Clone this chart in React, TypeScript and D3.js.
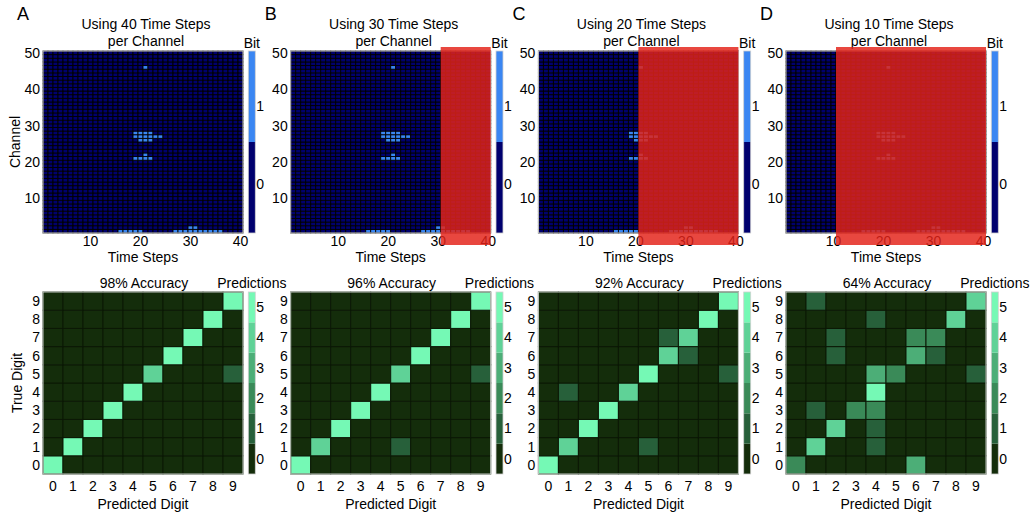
import React from 'react';
import * as d3 from 'd3';

const W = 1034;
const H = 514;

const stepsUsed = [40, 30, 20, 10];
const panelLetters = ['A', 'B', 'C', 'D'];
const accuracies = [98, 96, 92, 64];
const channelTicks = [10, 20, 30, 40, 50];
const timeTicks = [10, 20, 30, 40];
const bitTicks = [0, 1];
const predTicks = [0, 1, 2, 3, 4, 5];
const digits = [0, 1, 2, 3, 4, 5, 6, 7, 8, 9];
const numChannels = 50;
const numSteps = 40;

// [channel, firstStep, lastStep] runs of bit = 1
const bitRuns: number[][] = [
  [46, 21, 21],
  [28, 19, 22],
  [27, 19, 24],
  [26, 20, 22],
  [22, 21, 21],
  [21, 19, 22],
  [2, 30, 31],
  [1, 16, 20],
  [1, 27, 36],
];

// [trueDigit, predictedDigit, count]
const confA: number[][] = [
  [0, 0, 5], [1, 1, 5], [2, 2, 5], [3, 3, 5], [4, 4, 5], [5, 5, 4], [5, 9, 1],
  [6, 6, 5], [7, 7, 5], [8, 8, 5], [9, 9, 5],
];
const confB: number[][] = [
  [0, 0, 5], [1, 1, 4], [1, 5, 1], [2, 2, 5], [3, 3, 5], [4, 4, 5], [5, 5, 4], [5, 9, 1],
  [6, 6, 5], [7, 7, 5], [8, 8, 5], [9, 9, 5],
];
const confC: number[][] = [
  [0, 0, 5], [1, 1, 4], [1, 5, 1], [2, 2, 5], [3, 3, 5], [4, 1, 1], [4, 4, 4], [5, 5, 5],
  [5, 9, 1], [6, 6, 4], [6, 7, 1], [7, 6, 1], [7, 7, 4], [8, 8, 5], [9, 9, 5],
];
const confD: number[][] = [
  [0, 0, 2], [0, 6, 3], [1, 1, 4], [1, 4, 1], [2, 2, 4], [2, 4, 1], [3, 1, 1], [3, 3, 2],
  [3, 4, 2], [4, 4, 5], [5, 4, 3], [5, 5, 2], [5, 9, 1], [6, 2, 1], [6, 6, 3], [6, 7, 1],
  [7, 2, 1], [7, 6, 2], [7, 7, 2], [8, 4, 1], [8, 8, 4], [9, 1, 1], [9, 9, 4],
];
const confusions = [confA, confB, confC, confD];

const bitColors = ['#00006e', '#3a86f2'];
const predColors = ['#142d0b', '#27603a', '#3a8a58', '#4cae77', '#5fd297', '#75f9b5'];

const FONT = '"Liberation Sans", Arial, Helvetica, sans-serif';

const panelLefts = [43, 290.7, 538.4, 786];
const PW = 200;
const hmTop = 51;
const hmBottom = 233;
const cmTop = 292;
const cmBottom = 474;

function Panel({ idx }: { idx: number }) {
  const left = panelLefts[idx];
  const x = d3.scaleLinear().domain([0.5, numSteps + 0.5]).range([left, left + PW]);
  const y = d3.scaleLinear().domain([0.5, numChannels + 0.5]).range([hmBottom, hmTop]);
  const cellW = x(2) - x(1);
  const cellH = y(1) - y(2);

  const cells: { t: number; c: number; v: number }[] = [];
  for (let c = 1; c <= numChannels; c++) {
    for (let t = 1; t <= numSteps; t++) {
      const on = bitRuns.some((r) => r[0] === c && t >= r[1] && t <= r[2]);
      cells.push({ t, c, v: on ? 1 : 0 });
    }
  }

  const cbX = left + 205.3;
  const cbW = 7;
  const cbY = d3.scaleLinear().domain([-0.63, 1.7]).range([hmBottom, hmTop]);

  // confusion matrix
  const cx = d3.scaleBand<number>().domain(digits).range([left, left + PW]);
  const cy = d3.scaleBand<number>().domain(digits).range([cmBottom, cmTop]);
  const conf = confusions[idx];
  const countOf = (t: number, p: number) => {
    const e = conf.find((r) => r[0] === t && r[1] === p);
    return e ? e[2] : 0;
  };
  const pColor = d3.scaleOrdinal<number, string>().domain(predTicks).range(predColors);
  const pcbY = d3.scaleLinear().domain([-0.5, 5.5]).range([cmBottom, cmTop]);

  const overlayStart = x(stepsUsed[idx] + 0.5);

  return (
    <g>
      <text x={left - 26} y={20} fontSize={18} fontFamily={FONT}>{panelLetters[idx]}</text>
      <text x={left + 103} y={29} fontSize={14} fontFamily={FONT} textAnchor="middle">
        {`Using ${stepsUsed[idx]} Time Steps`}
      </text>
      <text x={left + 103} y={45.5} fontSize={14} fontFamily={FONT} textAnchor="middle">per Channel</text>

      {/* heatmap */}
      {cells.map((d, i) => (
        <rect key={i} x={x(d.t - 0.5)} y={y(d.c + 0.5)} width={cellW} height={cellH}
          fill={bitColors[d.v]} stroke="#000" strokeWidth={0.9} />
      ))}
      <rect x={left} y={hmTop} width={PW} height={hmBottom - hmTop} fill="none" stroke="#c8c8c8" strokeWidth={1} />
      {channelTicks.map((t) => (
        <text key={t} x={left - 3} y={y(t)} dy="0.35em" fontSize={14} fontFamily={FONT} textAnchor="end">{t}</text>
      ))}
      {timeTicks.map((t) => (
        <text key={t} x={x(t)} y={246} fontSize={14} fontFamily={FONT} textAnchor="middle">{t}</text>
      ))}
      <text x={left + 100} y={261.5} fontSize={14} fontFamily={FONT} textAnchor="middle">Time Steps</text>
      {idx === 0 && (
        <text transform={`translate(20,${(hmTop + hmBottom) / 2}) rotate(-90)`} fontSize={14} fontFamily={FONT} textAnchor="middle">Channel</text>
      )}

      {/* bit colorbar */}
      {bitTicks.map((b) => (
        <rect key={b} x={cbX} y={b === 1 ? hmTop : (hmTop + hmBottom) / 2} width={cbW}
          height={(hmBottom - hmTop) / 2} fill={bitColors[b]} />
      ))}
      <rect x={cbX} y={hmTop} width={cbW} height={hmBottom - hmTop} fill="none" stroke="#d0d0d0" strokeWidth={0.8} />
      {bitTicks.map((b) => (
        <text key={b} x={cbX + cbW + 1} y={cbY(b)} dy="0.35em" fontSize={14} fontFamily={FONT}>{b}</text>
      ))}
      <text x={cbX + cbW / 2} y={48} fontSize={14} fontFamily={FONT} textAnchor="middle">Bit</text>

      {/* red overlay of unused time steps */}
      {stepsUsed[idx] < numSteps && (
        <rect x={overlayStart} y={47} width={left + PW - overlayStart} height={198}
          fill="rgb(228,35,25)" fillOpacity={0.835} />
      )}

      {/* confusion matrix */}
      <text x={left + 101} y={288} fontSize={14} fontFamily={FONT} textAnchor="middle">{`${accuracies[idx]}% Accuracy`}</text>
      {digits.map((t) => digits.map((p) => (
        <rect key={`${t}-${p}`} x={cx(p)} y={cy(t)} width={cx.bandwidth()} height={cy.bandwidth()}
          fill={pColor(countOf(t, p))} stroke="#0a1805" strokeWidth={1} />
      )))}
      <rect x={left} y={cmTop} width={PW} height={cmBottom - cmTop} fill="none" stroke="#c8d0c8" strokeWidth={1} />
      {digits.map((d) => (
        <text key={`yl${d}`} x={left - 3} y={(cy(d) as number) + cy.bandwidth() / 2} dy="0.35em"
          fontSize={14} fontFamily={FONT} textAnchor="end">{d}</text>
      ))}
      {digits.map((d) => (
        <text key={`xl${d}`} x={(cx(d) as number) + cx.bandwidth() / 2} y={490.5}
          fontSize={14} fontFamily={FONT} textAnchor="middle">{d}</text>
      ))}
      <text x={left + 100} y={509} fontSize={14} fontFamily={FONT} textAnchor="middle">Predicted Digit</text>
      {idx === 0 && (
        <text transform={`translate(22,${(cmTop + cmBottom) / 2}) rotate(-90)`} fontSize={14} fontFamily={FONT} textAnchor="middle">True Digit</text>
      )}

      {/* predictions colorbar */}
      {predTicks.map((v) => (
        <rect key={v} x={cbX} y={pcbY(v + 0.5)} width={cbW} height={pcbY(v - 0.5) - pcbY(v + 0.5)} fill={predColors[v]} />
      ))}
      <rect x={cbX} y={cmTop} width={cbW} height={cmBottom - cmTop} fill="none" stroke="#d0d0d0" strokeWidth={0.8} />
      {predTicks.map((v) => (
        <text key={v} x={cbX + cbW + 1} y={pcbY(v)} dy="0.35em" fontSize={14} fontFamily={FONT}>{v}</text>
      ))}
      <text x={cbX + cbW / 2} y={288} fontSize={14} fontFamily={FONT} textAnchor="middle">Predictions</text>
    </g>
  );
}

export default function App() {
  return (
    <svg width={W} height={H} style={{ position: 'absolute', left: 0, top: 0, background: '#fff' }}>
      <rect x={0} y={0} width={W} height={H} fill="#fff" />
      {stepsUsed.map((_, i) => (
        <Panel key={i} idx={i} />
      ))}
    </svg>
  );
}
